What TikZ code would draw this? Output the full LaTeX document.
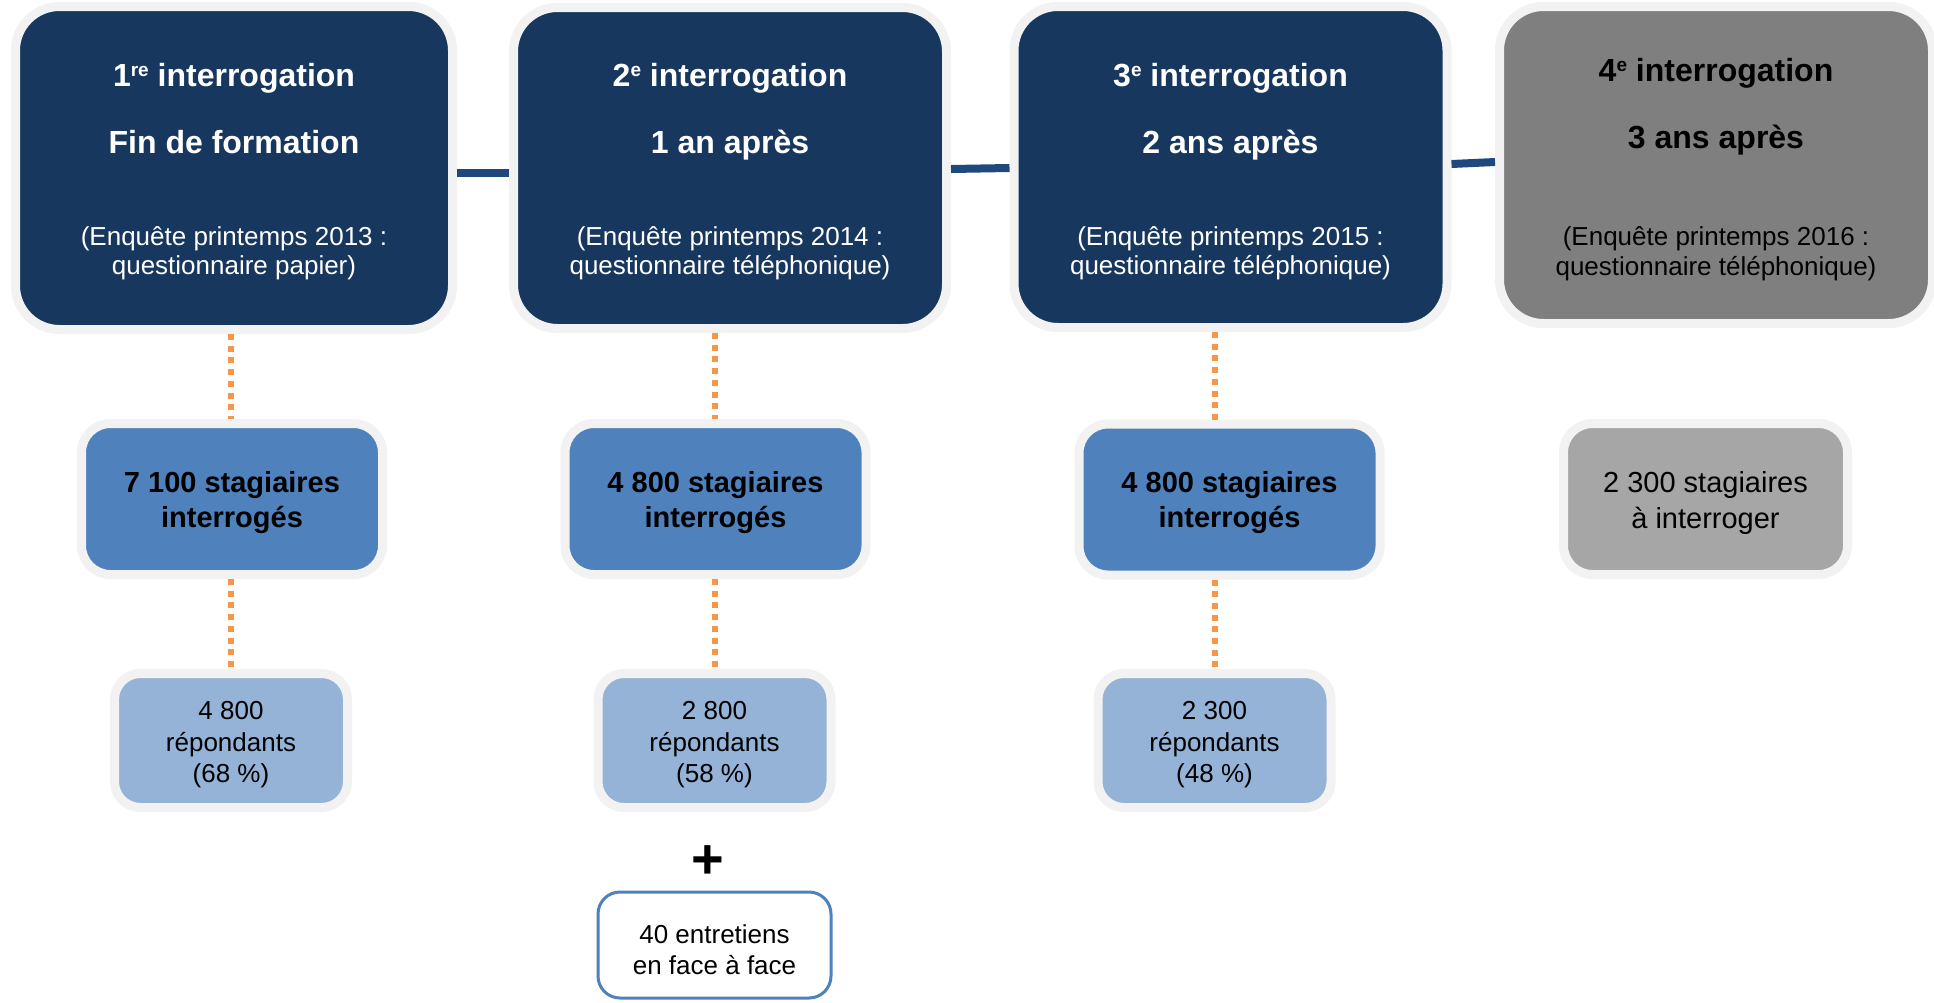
\documentclass[tikz,border=0pt]{standalone}
\usepackage{fontspec}
\setmainfont{Liberation Sans}
\usetikzlibrary{calc}
\definecolor{navy}{HTML}{17375E}
\definecolor{linkblue}{HTML}{1F497D}
\definecolor{midblue}{HTML}{4F81BD}
\definecolor{paleblue}{HTML}{95B3D7}
\definecolor{darkgrayfill}{HTML}{7F7F7F}
\definecolor{lightgrayfill}{HTML}{A6A6A6}
\definecolor{rim}{HTML}{F2F2F2}
\definecolor{dotorange}{HTML}{F79646}
\newcommand\supx[1]{\raisebox{10pt}{\fontsize{19}{19}\selectfont #1}}
\begin{document}
\begin{tikzpicture}[x=1pt,y=-1pt,
  rimbox/.style={draw=rim, line width=9pt, inner sep=0pt},
  topbox/.style={rimbox, rounded corners=44pt, minimum width=433pt, minimum height=321pt},
  midbox/.style={rimbox, rounded corners=29pt, minimum width=301pt, minimum height=151pt},
  lowbox/.style={rimbox, fill=paleblue, rounded corners=26pt, minimum width=233pt, minimum height=134pt},
  link/.style={draw=linkblue, line width=8pt},
  dotlink/.style={draw=dotorange, line width=6pt, dash pattern=on 6pt off 5.7pt},
  ttl/.style={anchor=base, inner sep=0pt, font=\fontsize{32}{38}\selectfont\bfseries},
  subtxt/.style={anchor=base, inner sep=0pt, font=\fontsize{26}{30}\selectfont},
  midtxt/.style={anchor=base, inner sep=0pt, font=\fontsize{29}{35}\selectfont\bfseries},
  midplain/.style={anchor=base, inner sep=0pt, font=\fontsize{29}{35}\selectfont},
  lowtxt/.style={anchor=base, inner sep=0pt, font=\fontsize{26}{30}\selectfont}
]
\fill[white] (0,0) rectangle (1934,1002);
\useasboundingbox (0,0) rectangle (1934,1002);

% top row
\node[topbox, fill=navy, minimum width=437pt, minimum height=323pt] (t1) at (234,168) {};
\node[topbox, fill=navy] (t2) at (730,168) {};
\node[topbox, fill=navy] (t3) at (1230.5,167) {};
\node[topbox, fill=darkgrayfill, minimum height=317pt] (t4) at (1716,165) {};

\draw[link] ([yshift=-5pt]t1.east) -- ([yshift=-5pt]t2.west);
\draw[link] ([yshift=-1pt]t2.east) -- ([yshift=-1pt]t3.west);
\draw[link] ([yshift=3pt]t3.east) -- ([yshift=3pt]t4.west);

% top texts
\node[ttl, text=white] (t1a) at (234,86) {1\supx{re} interrogation};
\node[ttl, text=white] (t1b) at (234,153) {Fin de formation};
\node[subtxt, text=white] (t1c) at (234,245) {(Enquête printemps 2013 :};
\node[subtxt, text=white] (t1d) at (234,274) {questionnaire papier)};

\node[ttl, text=white] (t2a) at (730,86) {2\supx{e} interrogation};
\node[ttl, text=white] (t2b) at (730,153) {1 an après};
\node[subtxt, text=white] (t2c) at (730,245) {(Enquête printemps 2014 :};
\node[subtxt, text=white] (t2d) at (730,274) {questionnaire téléphonique)};

\node[ttl, text=white] (t3a) at (1230.5,86) {3\supx{e} interrogation};
\node[ttl, text=white] (t3b) at (1230.5,153) {2 ans après};
\node[subtxt, text=white] (t3c) at (1230.5,245) {(Enquête printemps 2015 :};
\node[subtxt, text=white] (t3d) at (1230.5,274) {questionnaire téléphonique)};

\node[ttl, text=black] (t4a) at (1716,81) {4\supx{e} interrogation};
\node[ttl, text=black] (t4b) at (1716,148) {3 ans après};
\node[subtxt, text=black] (t4c) at (1716,245) {(Enquête printemps 2016 :};
\node[subtxt, text=black] (t4d) at (1716,275) {questionnaire téléphonique)};

% middle row
\node[midbox, fill=midblue] (r1) at (232,499) {};
\node[midbox, fill=midblue] (r2) at (715.5,499) {};
\node[midbox, fill=midblue] (r3) at (1229.5,499.5) {};
\node[midbox, fill=lightgrayfill, minimum width=284pt] (r4) at (1705.5,499) {};

\node[midtxt] (r1a) at (232,492) {7 100 stagiaires};
\node[midtxt] (r1b) at (232,527) {interrogés};
\node[midtxt] (r2a) at (715.5,492) {4 800 stagiaires};
\node[midtxt] (r2b) at (715.5,527) {interrogés};
\node[midtxt] (r3a) at (1229.5,492) {4 800 stagiaires};
\node[midtxt] (r3b) at (1229.5,527) {interrogés};
\node[midplain] (r4a) at (1705.5,492) {2 300 stagiaires};
\node[midplain] (r4b) at (1705.5,528) {à interroger};

% lower row
\node[lowbox] (s1) at (231,740.5) {};
\node[lowbox] (s2) at (714.5,740.5) {};
\node[lowbox] (s3) at (1214.5,740.5) {};

\node[lowtxt] (s1a) at (231,719) {4 800};
\node[lowtxt] (s1b) at (231,751) {répondants};
\node[lowtxt] (s1c) at (231,782) {(68 \%)};
\node[lowtxt] (s2a) at (714.5,719) {2 800};
\node[lowtxt] (s2b) at (714.5,751) {répondants};
\node[lowtxt] (s2c) at (714.5,782) {(58 \%)};
\node[lowtxt] (s3a) at (1214.5,719) {2 300};
\node[lowtxt] (s3b) at (1214.5,751) {répondants};
\node[lowtxt] (s3c) at (1214.5,782) {(48 \%)};

% dotted connectors
\draw[dotlink] (s1.north |- t1.south) -- (s1.north |- r1.north);
\draw[dotlink] (s1.north |- r1.south) -- (s1.north);
\draw[dotlink] (s2.north |- t2.south) -- (s2.north |- r2.north);
\draw[dotlink] (s2.north |- r2.south) -- (s2.north);
\draw[dotlink] (s3.north |- t3.south) -- (s3.north |- r3.north);
\draw[dotlink] (s3.north |- r3.south) -- (s3.north);

% plus and interviews
\node[inner sep=0pt, font=\fontsize{56}{56}\selectfont\bfseries] (plus) at (708,862) {+};
\node[draw=midblue, line width=3pt, rounded corners=22pt, minimum width=233pt, minimum height=106pt, inner sep=0pt] (e2) at (714.5,945) {};
\node[lowtxt] (e2a) at (714.5,943) {40 entretiens};
\node[lowtxt] (e2b) at (714.5,974) {en face à face};
\end{tikzpicture}
\end{document}
